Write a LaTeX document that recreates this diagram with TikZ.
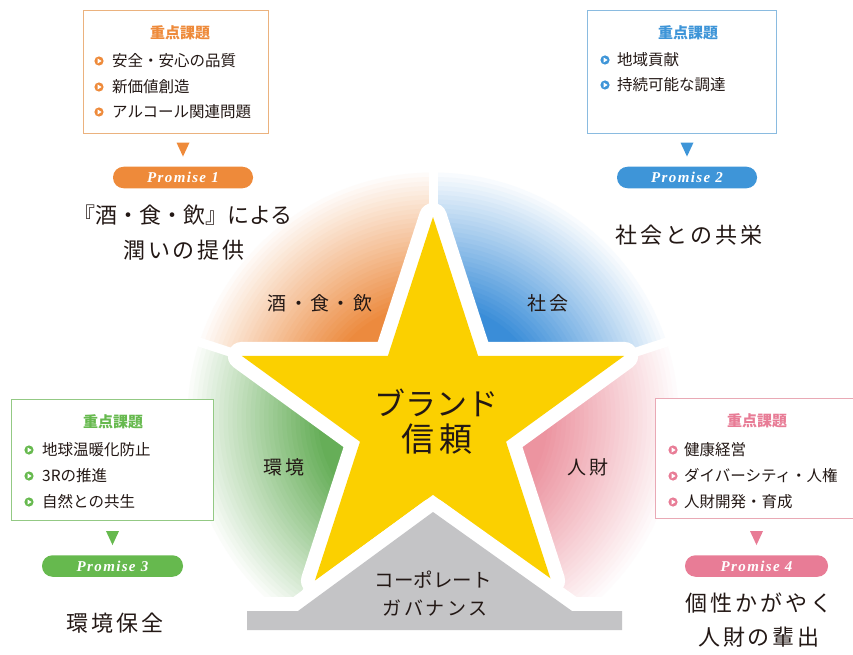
\documentclass[tikz,border=0pt]{standalone}
\usepackage{fontspec}
\setmainfont{Liberation Serif}
\newfontfamily\jp{Noto Sans CJK JP}
\newfontfamily\jpw[LetterSpace=13]{Noto Sans CJK JP}
\newfontfamily\prom[LetterSpace=9]{Liberation Serif}
\usetikzlibrary{calc}
\definecolor{ink}{HTML}{231815}
\definecolor{cOr}{HTML}{EC8A3E}
\definecolor{cBl}{HTML}{3A8DD8}
\definecolor{cGr}{HTML}{66AE58}
\definecolor{cPk}{HTML}{EC94A0}
\definecolor{pOr}{HTML}{EE8A3A}
\definecolor{pBl}{HTML}{3E95D8}
\definecolor{pGr}{HTML}{66B94E}
\definecolor{pPk}{HTML}{E87C96}
\definecolor{bdOr}{HTML}{EBB27E}
\definecolor{bdBl}{HTML}{8ABBE0}
\definecolor{bdGr}{HTML}{93C984}
\definecolor{bdPk}{HTML}{E9A9B5}
\definecolor{starc}{HTML}{FBD000}
\definecolor{govc}{HTML}{C4C4C6}
\newcommand\fsz[1]{\fontsize{#1}{#1}\selectfont}
\newcommand\fanfill[2]{%
  \begin{scope}
    \clip #2;
    \foreach \i in {0,...,34}{%
      \pgfmathsetmacro\fanr{250-4.5*\i}%
      \pgfmathsetmacro\fanp{min(100,\i*100/30)}%
      \fill[#1!\fanp!white] (C) circle (\fanr);}
  \end{scope}}
\newcommand\bul[3]{% colour, x, y
  \fill[#1] (#2,#3) circle (4.6);
  \fill[white] (#2-1.5,#3-2.6) -- (#2-1.5,#3+2.6) -- (#2+2.6,#3) -- cycle;}
\tikzset{
  keybox/.style={draw=#1, line width=1.2pt, fill=white, anchor=north west, inner sep=0pt},
  ttl/.style={font=\jp\bfseries\fsz{15}, text=#1, inner sep=0pt},
  itm/.style={font=\jp\fsz{15.5}, text=ink, anchor=west, inner sep=0pt},
  pill/.style={fill=#1, rounded corners=10.5pt, minimum width=140pt, minimum height=21.5pt,
    inner sep=0pt, text=white, font=\prom\bfseries\itshape\fsz{15}},
  big/.style={font=\jpw\fsz{22}, text=ink, inner sep=0pt},
  sect/.style={font=\jpw\fsz{19}, text=ink, inner sep=0pt},
  sep/.style={white, line width=9pt},
}
\begin{document}
\begin{tikzpicture}[x=1pt,y=-1pt]
\useasboundingbox (0,0) rectangle (853,655);
% star geometry
\coordinate (C) at (433,418);
\coordinate (T) at (433,217);
\coordinate (L) at (241.8,355.9);
\coordinate (Rt) at (624.2,355.9);
\coordinate (LL) at (314.9,580.6);
\coordinate (LR) at (551.1,580.6);
\coordinate (I1) at (387.9,355.9);
\coordinate (I2) at (478.1,355.9);
\coordinate (I3) at (360.0,441.7);
\coordinate (I4) at (506.0,441.7);
\coordinate (I5) at (433,494.8);
% faded sectors
\fanfill{cOr}{(C) -- ($(C)!1.6!(T)$) -- (120,96.4) -- ($(C)!1.6!(L)$) -- cycle}
\fanfill{cBl}{(C) -- ($(C)!1.6!(T)$) -- (746,96.4) -- ($(C)!1.6!(Rt)$) -- cycle}
\fanfill{cGr}{(C) -- ($(C)!1.6!(L)$) -- (120,690) -- ($(C)!1.6!(LL)$) -- cycle}
\fanfill{cPk}{(C) -- ($(C)!1.6!(Rt)$) -- (746,690) -- ($(C)!1.6!(LR)$) -- cycle}
\foreach \p in {T,L,Rt,LL,LR}{\draw[sep] (C) -- ($(C)!1.7!(\p)$);}
% star
\draw[white, line width=28pt, line join=round]
  (T) -- (I2) -- (Rt) -- (I4) -- (LR) -- (I5) -- (LL) -- (I3) -- (L) -- (I1) -- cycle;
\fill[starc]
  (T) -- (I2) -- (Rt) -- (I4) -- (LR) -- (I5) -- (LL) -- (I3) -- (L) -- (I1) -- cycle;
% governance base
\draw[white, line width=28pt, line join=round]
  (247,611) -- (298,611) -- (433,512) -- (572,611) -- (622,611) -- (622,630) -- (247,630) -- cycle;
\fill[govc]
  (247,611) -- (298,611) -- (433,512) -- (572,611) -- (622,611) -- (622,630) -- (247,630) -- cycle;
% labels on diagram
\node[font=\jp\fsz{31}, text=ink, inner sep=0pt] (brand) at (436,403) {ブランド};
\node[font=\jp\fsz{33}, text=ink, inner sep=0pt] (trust) at (437,439) {信\,頼};
\node[sect] (s1) at (320,303) {酒・食・飲};
\node[sect] (s2) at (548,303) {社会};
\node[sect] (s3) at (284,467) {環境};
\node[sect] (s4) at (588,467) {人財};
\node[font=\jp\fsz{19.5}, text=ink, inner sep=0pt] (gov1) at (433,580) {コーポレート};
\node[font=\jpw\fsz{19}, text=ink, inner sep=0pt] (gov2) at (435,608) {ガバナンス};
% box 1
\node[keybox=bdOr, minimum width=185pt, minimum height=123pt] (b1) at (83,10) {};
\node[ttl=pOr] (b1t) at (180,33) {重点課題};
\bul{pOr}{99}{61}\node[itm] (b1a) at (112,61) {安全・安心の品質};
\bul{pOr}{99}{87}\node[itm] (b1b) at (112,87) {新価値創造};
\bul{pOr}{99}{112}\node[itm] (b1c) at (112,112) {アルコール関連問題};
% box 2
\node[keybox=bdBl, minimum width=189pt, minimum height=123pt] (b2) at (587,10) {};
\node[ttl=pBl] (b2t) at (688,33) {重点課題};
\bul{pBl}{605}{60}\node[itm] (b2a) at (617,60) {地域貢献};
\bul{pBl}{605}{85}\node[itm] (b2b) at (617,85) {持続可能な調達};
% box 3
\node[keybox=bdGr, minimum width=202pt, minimum height=121pt] (b3) at (11,399) {};
\node[ttl=pGr] (b3t) at (113,422) {重点課題};
\bul{pGr}{29}{450}\node[itm] (b3a) at (42,450) {地球温暖化防止};
\bul{pGr}{29}{476}\node[itm] (b3b) at (42,476) {3Rの推進};
\bul{pGr}{29}{502}\node[itm] (b3c) at (42,502) {自然との共生};
% box 4
\node[keybox=bdPk, minimum width=200pt, minimum height=120pt] (b4) at (655,398) {};
\node[ttl=pPk] (b4t) at (757,421) {重点課題};
\bul{pPk}{673}{450}\node[itm] (b4a) at (684,450) {健康経営};
\bul{pPk}{673}{476}\node[itm] (b4b) at (684,476) {ダイバーシティ・人権};
\bul{pPk}{673}{502}\node[itm] (b4c) at (684,502) {人財開発・育成};
% promises
\node[pill=pOr] (p1) at (183,177.5) {Promise 1};
\node[pill=pBl] (p2) at (687,177.5) {Promise 2};
\node[pill=pGr, minimum width=141pt] (p3) at (112.5,566) {Promise 3};
\node[pill=pPk, minimum width=143pt] (p4) at (756.5,566) {Promise 4};
% down triangles
\fill[pOr] ($(p1.north)+(-6.5,-24)$) -- ++(13,0) -- ++(-6.5,14) -- cycle;
\fill[pBl] ($(p2.north)+(-6.5,-24)$) -- ++(13,0) -- ++(-6.5,14) -- cycle;
\fill[pGr] ($(p3.north)+(-6.5,-24)$) -- ++(13,0) -- ++(-6.5,14) -- cycle;
\fill[pPk] ($(p4.north)+(-6.5,-24)$) -- ++(13,0) -- ++(-6.5,14) -- cycle;
% promise texts
\node[font=\jp\fsz{22}, text=ink, inner sep=0pt] (t1a) at (183,215) {『酒・食・飲』による};
\node[big] (t1b) at (184,250) {潤いの提供};
\node[big] (t2) at (689,235) {社会との共栄};
\node[big] (t3) at (115,623) {環境保全};
\node[big] (t4a) at (759,603) {個性かがやく};
\node[big] (t4b) at (759,637) {人財の輩出};
\end{tikzpicture}
\end{document}
